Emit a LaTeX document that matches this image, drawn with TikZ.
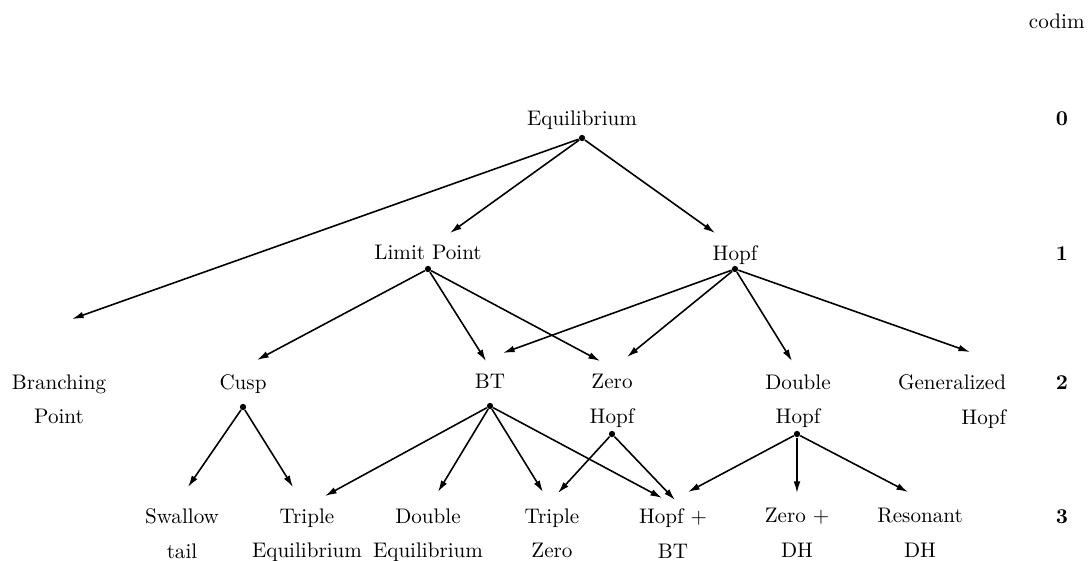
\documentclass[tikz,border=0pt]{standalone}
\usetikzlibrary{arrows.meta}

\tikzset{
  lbl/.style={font=\fontsize{10}{16.5}\selectfont, inner sep=0pt, anchor=north, align=center},
  dot/.style={circle, fill=black, inner sep=0pt, minimum size=3pt},
  arr/.style={line width=0.75pt, -{Latex[length=5.5pt,width=3.2pt]}},
}

\begin{document}
\begin{tikzpicture}[x=0.016667cm, y=-0.016667cm]
            \useasboundingbox (0,0) rectangle (1088,560);
            % codim column
            \node[lbl, anchor=north east] (codim) at (1085,13) {codim};
            \node[lbl] (c0) at (1062,111) {\textbf{0}};
            \node[lbl] (c1) at (1062,246) {\textbf{1}};
            \node[lbl] (c2) at (1062,375) {\textbf{2}};
            \node[lbl] (c3) at (1062,509) {\textbf{3}};
            % codim 0 and 1
            \node[lbl] (eq) at (582,110) {Equilibrium};
            \node[lbl] (lp) at (428,245) {Limit Point};
            \node[lbl] (hopf) at (735,245) {Hopf};
            % codim 2
            \node[lbl] (bp) at (59,374) {Branching\\Point};
            \node[lbl] (cusp) at (243,374) {Cusp};
            \node[lbl] (bt) at (490,374) {BT};
            \node[lbl] (zh) at (612,374) {Zero\\Hopf};
            \node[lbl] (dh) at (798,374) {Double\\Hopf};
            \node[lbl, align=right] (gh) at (952,374) {Generalized\\Hopf};
            % codim 3
            \node[lbl] (st) at (182,508) {Swallow\\tail};
            \node[lbl] (te) at (307,508) {Triple\\Equilibrium};
            \node[lbl] (de) at (428,508) {Double\\Equilibrium};
            \node[lbl] (tz) at (552,508) {Triple\\Zero};
            \node[lbl] (hbt) at (673,508) {Hopf +\\BT};
            \node[lbl] (zdh) at (797,508) {Zero +\\DH};
            \node[lbl] (rdh) at (920,508) {Resonant\\DH};
            % dots
            \node[dot] (eqdot) at (582,138) {};
            \node[dot] (lpdot) at (428,269) {};
            \node[dot] (hopfdot) at (735,269) {};
            \node[dot] (cuspdot) at (243,407) {};
            \node[dot] (btdot) at (490,406) {};
            \node[dot] (zhdot) at (612,434) {};
            \node[dot] (dhdot) at (797,434) {};
            % arrows
            \draw[arr] (eqdot) -- ([shift={(13,-55)}]bp.north);
            \draw[arr] (eqdot) -- ([shift={(22,-12)}]lp.north);
            \draw[arr] (eqdot) -- ([shift={(-20,-12)}]hopf.north);
            \draw[arr] (lpdot) -- ([shift={(14,-14)}]cusp.north);
            \draw[arr] (lpdot) -- ([shift={(-4,-13)}]bt.north);
            \draw[arr] (lpdot) -- ([shift={(-12,-13)}]zh.north);
            \draw[arr] (hopfdot) -- ([shift={(13,-21)}]bt.north);
            \draw[arr] (hopfdot) -- ([shift={(15,-17)}]zh.north);
            \draw[arr] (hopfdot) -- ([shift={(-6,-13)}]dh.north);
            \draw[arr] (hopfdot) -- ([shift={(18,-22)}]gh.north);
            \draw[arr] (cuspdot) -- ([shift={(6,-21)}]st.north);
            \draw[arr] (cuspdot) -- ([shift={(-14,-21)}]te.north);
            \draw[arr] (btdot) -- ([shift={(18,-12)}]te.north);
            \draw[arr] (btdot) -- ([shift={(10,-16)}]de.north);
            \draw[arr] (btdot) -- ([shift={(-9,-16)}]tz.north);
            \draw[arr] (btdot) -- ([shift={(-11,-10)}]hbt.north);
            \draw[arr] (zhdot) -- ([shift={(6,-15)}]tz.north);
            \draw[arr] (zhdot) -- ([shift={(2,-8)}]hbt.north);
            \draw[arr] (dhdot) -- ([shift={(15,-16)}]hbt.north);
            \draw[arr] (dhdot) -- ([shift={(0,-15)}]zdh.north);
            \draw[arr] (dhdot) -- ([shift={(-12,-16)}]rdh.north);
        \end{tikzpicture}
\end{document}
